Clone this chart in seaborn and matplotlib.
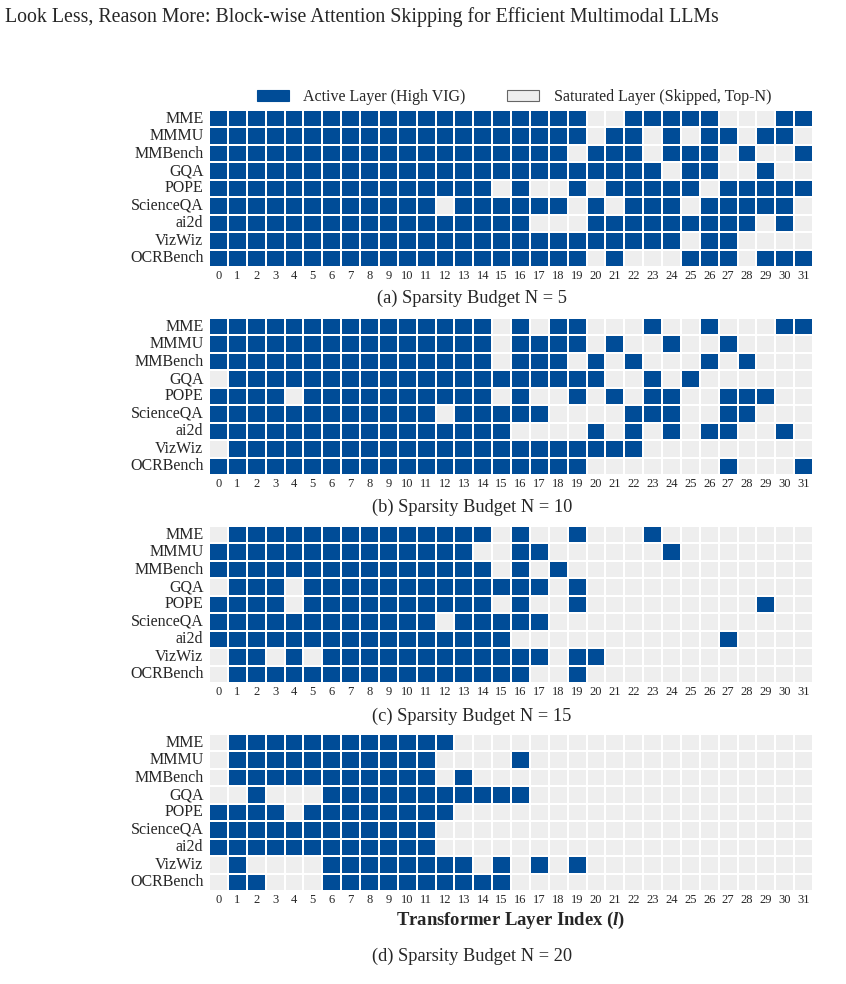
import numpy as np
import pandas as pd
import matplotlib
matplotlib.use("Agg")
import matplotlib.pyplot as plt
import seaborn as sns
from matplotlib.colors import ListedColormap
from matplotlib.patches import Patch

# ---------------- data ----------------
benchmarks = ["MME", "MMMU", "MMBench", "GQA", "POPE", "ScienceQA", "ai2d", "VizWiz", "OCRBench"]
layers = list(range(32))
budgets = [5, 10, 15, 20]
panel_letters = ["a", "b", "c", "d"]

# skipped (saturated) layer indices per benchmark, for each sparsity budget
skipped_n5 = [
    [20, 21, 27, 28, 29],
    [20, 23, 25, 28, 31],
    [19, 23, 27, 29, 30],
    [24, 27, 28, 30, 31],
    [15, 17, 18, 20, 26],
    [12, 19, 21, 25, 31],
    [17, 18, 19, 29, 31],
    [25, 28, 29, 30, 31],
    [20, 22, 23, 24, 28],
]
skipped_n10 = [
    [15, 17, 20, 21, 22, 24, 25, 27, 28, 29],
    [15, 20, 22, 23, 25, 26, 28, 29, 30, 31],
    [15, 19, 21, 23, 24, 25, 27, 29, 30, 31],
    [0, 21, 22, 24, 26, 27, 28, 29, 30, 31],
    [4, 15, 17, 18, 20, 22, 25, 26, 30, 31],
    [12, 18, 19, 20, 21, 25, 26, 29, 30, 31],
    [16, 17, 18, 19, 21, 23, 25, 28, 29, 31],
    [0, 23, 24, 25, 26, 27, 28, 29, 30, 31],
    [20, 21, 22, 23, 24, 25, 26, 28, 29, 30],
]
skipped_n15 = [
    [0, 15, 17, 18, 20, 21, 22, 24, 25, 26, 27, 28, 29, 30, 31],
    [14, 15, 18, 19, 20, 21, 22, 23, 25, 26, 27, 28, 29, 30, 31],
    [15, 17, 19, 20, 21, 22, 23, 24, 25, 26, 27, 28, 29, 30, 31],
    [0, 4, 18, 20, 21, 22, 23, 24, 25, 26, 27, 28, 29, 30, 31],
    [4, 15, 17, 18, 20, 21, 22, 23, 24, 25, 26, 27, 28, 30, 31],
    [12, 18, 19, 20, 21, 22, 23, 24, 25, 26, 27, 28, 29, 30, 31],
    [16, 17, 18, 19, 20, 21, 22, 23, 24, 25, 26, 28, 29, 30, 31],
    [0, 3, 5, 18, 21, 22, 23, 24, 25, 26, 27, 28, 29, 30, 31],
    [0, 17, 18, 20, 21, 22, 23, 24, 25, 26, 27, 28, 29, 30, 31],
]
skipped_n20 = [
    [0, 13, 14, 15, 16, 17, 18, 19, 20, 21, 22, 23, 24, 25, 26, 27, 28, 29, 30, 31],
    [0, 12, 13, 14, 15, 17, 18, 19, 20, 21, 22, 23, 24, 25, 26, 27, 28, 29, 30, 31],
    [0, 12, 14, 15, 16, 17, 18, 19, 20, 21, 22, 23, 24, 25, 26, 27, 28, 29, 30, 31],
    [0, 1, 3, 4, 5, 17, 18, 19, 20, 21, 22, 23, 24, 25, 26, 27, 28, 29, 30, 31],
    [4, 13, 14, 15, 16, 17, 18, 19, 20, 21, 22, 23, 24, 25, 26, 27, 28, 29, 30, 31],
    [12, 13, 14, 15, 16, 17, 18, 19, 20, 21, 22, 23, 24, 25, 26, 27, 28, 29, 30, 31],
    [12, 13, 14, 15, 16, 17, 18, 19, 20, 21, 22, 23, 24, 25, 26, 27, 28, 29, 30, 31],
    [0, 2, 3, 4, 5, 14, 16, 18, 20, 21, 22, 23, 24, 25, 26, 27, 28, 29, 30, 31],
    [0, 3, 4, 5, 16, 17, 18, 19, 20, 21, 22, 23, 24, 25, 26, 27, 28, 29, 30, 31],
]
skipped_all = [skipped_n5, skipped_n10, skipped_n15, skipped_n20]

title_text = "Look Less, Reason More: Block-wise Attention Skipping for Efficient Multimodal LLMs"
legend_labels = ["Active Layer (High VIG)", "Saturated Layer (Skipped, Top-N)"]
xlabel_text = "Transformer Layer Index ($\\mathit{l}$)"

# ---------------- style ----------------
BLUE = "#004C97"
GRAY = "#EEEEEE"

sns.set_theme(style="white")
plt.rcParams["font.family"] = ["Liberation Serif", "DejaVu Serif"]
plt.rcParams["mathtext.fontset"] = "custom"
plt.rcParams["mathtext.rm"] = "Liberation Serif"
plt.rcParams["mathtext.it"] = "Liberation Serif:italic:bold"
plt.rcParams["mathtext.bf"] = "Liberation Serif:bold"

W, H = 846, 984
fig = plt.figure(figsize=(W / 100, H / 100), dpi=100)

ax_left, ax_w, ax_h = 209, 604, 157
tops = [110, 318, 526, 734]
caption_y = [298, 507, 716, 956]

cmap = ListedColormap([GRAY, BLUE])

for k, (n, letter, skips) in enumerate(zip(budgets, panel_letters, skipped_all)):
    mat = np.ones((len(benchmarks), len(layers)), dtype=int)
    for i, sk in enumerate(skips):
        mat[i, sk] = 0
    df = pd.DataFrame(mat, index=benchmarks, columns=layers)
    ax = fig.add_axes([ax_left / W, 1 - (tops[k] + ax_h) / H, ax_w / W, ax_h / H])
    sns.heatmap(df, ax=ax, cmap=cmap, vmin=0, vmax=1, cbar=False,
                linewidths=1.2, linecolor="white",
                xticklabels=layers, yticklabels=benchmarks)
    ax.tick_params(axis="both", length=0)
    ax.tick_params(axis="x", pad=2, labelsize=9, rotation=0)
    ax.tick_params(axis="y", pad=4, labelsize=11.5, rotation=0)
    ax.set_ylabel("")
    if k == 3:
        ax.set_xlabel(xlabel_text, fontsize=13.4, fontweight="bold", labelpad=3)
    else:
        ax.set_xlabel("")
    fig.text(472 / W, 1 - caption_y[k] / H, f"({letter}) Sparsity Budget N = {n}",
             ha="center", va="center", fontsize=13.2)

fig.text(5 / W, 1 - 17 / H, title_text, ha="left", va="center", fontsize=14.3)

handles = [Patch(facecolor=BLUE, edgecolor=BLUE, linewidth=0.8),
           Patch(facecolor=GRAY, edgecolor="#666666", linewidth=0.8)]
fig.legend(handles, legend_labels, loc="center", bbox_to_anchor=(514 / W, 1 - 97 / H),
           ncol=2, frameon=False, fontsize=11.5, handlelength=2.0, handleheight=0.75,
           handletextpad=0.9, columnspacing=2.6)

fig.savefig("out.png", dpi=100)
